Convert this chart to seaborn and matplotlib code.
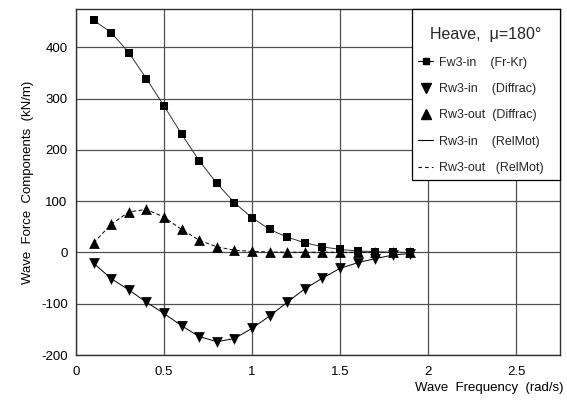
import matplotlib
matplotlib.use("Agg")
import matplotlib.pyplot as plt
import seaborn as sns
import pandas as pd
from matplotlib.lines import Line2D

# ---- data ----
freq = [0.1, 0.2, 0.3, 0.4, 0.5, 0.6, 0.7, 0.8, 0.9, 1.0,
        1.1, 1.2, 1.3, 1.4, 1.5, 1.6, 1.7, 1.8, 1.9]
fw3_in_frkr = [453, 429, 390, 339, 286, 231, 179, 135, 97, 68,
               45, 30, 19, 11, 6, 3, 1.5, 0.5, 0]
rw3_in_diffrac = [-21, -51, -73, -97, -119, -143, -164, -174, -168, -148,
                  -124, -97, -71, -50, -31, -20, -12, -5, -2]
rw3_out_diffrac = [19, 55, 79, 84, 69, 45, 24, 11, 4.5, 2,
                   1, 0.5, 0.5, 0.5, 0.5, 0.3, 0.2, 0.1, 0]
rw3_in_relmot = [-21, -51, -73, -97, -119, -143, -164, -174, -168, -148,
                 -124, -97, -71, -50, -31, -20, -12, -5, -2]
rw3_out_relmot = [19, 55, 79, 84, 69, 45, 24, 11, 4.5, 2,
                  1, 0.5, 0.5, 0.5, 0.5, 0.3, 0.2, 0.1, 0]

xticks = [0, 0.5, 1, 1.5, 2, 2.5]
xticklabels = ["0", "0.5", "1", "1.5", "2", "2.5"]
yticks = [-200, -100, 0, 100, 200, 300, 400]

legend_title = "Heave,  \u03bc=180\u00b0"
labels = ["Fw3-in    (Fr-Kr)",
          "Rw3-in    (Diffrac)",
          "Rw3-out  (Diffrac)",
          "Rw3-in    (RelMot)",
          "Rw3-out   (RelMot)"]

df = pd.DataFrame({"freq": freq, "fw3": fw3_in_frkr, "rin": rw3_in_diffrac,
                   "rout": rw3_out_diffrac, "rin_rm": rw3_in_relmot,
                   "rout_rm": rw3_out_relmot})

sns.set_theme(style="white")
plt.rcParams["font.family"] = ["Liberation Sans", "DejaVu Sans"]
plt.rcParams["axes.unicode_minus"] = False

fig = plt.figure(figsize=(5.67, 4.15), dpi=100)
ax = fig.add_axes([76 / 567, 1 - 355 / 415, (560 - 76) / 567, (355 - 9) / 415])

# lines (RelMot)
sns.lineplot(data=df, x="freq", y="rin_rm", ax=ax, color="black", lw=0.7)
sns.lineplot(data=df, x="freq", y="rout_rm", ax=ax, color="black", lw=0.7,
             dashes=False, linestyle=(0, (4, 2.5)))
# Fw3 line + square markers
sns.lineplot(data=df, x="freq", y="fw3", ax=ax, color="#333333", lw=0.7)
sns.scatterplot(data=df, x="freq", y="fw3", ax=ax, marker="s", color="black",
                s=26, edgecolor="black", linewidth=0, zorder=5)
sns.scatterplot(data=df, x="freq", y="rin", ax=ax, marker="v", color="black",
                s=60, edgecolor="black", linewidth=0, zorder=5)
sns.scatterplot(data=df, x="freq", y="rout", ax=ax, marker="^", color="black",
                s=60, edgecolor="black", linewidth=0, zorder=5)

ax.set_xlim(0, 2.75)
ax.set_ylim(-200, 475)
ax.set_xticks(xticks)
ax.set_xticklabels(xticklabels)
ax.set_yticks(yticks)
ax.tick_params(axis="both", length=0, labelsize=9.5, colors="black")
ax.tick_params(axis="x", pad=8)
ax.tick_params(axis="y", pad=6)
ax.grid(True, color="#505050", lw=0.9)
for s in ax.spines.values():
    s.set_color("#303030")
    s.set_linewidth(1.0)

ax.set_ylabel("Wave  Force  Components  (kN/m)", fontsize=9.5, color="black",
              labelpad=5)
ax.set_xlabel("Wave  Frequency  (rad/s)", fontsize=9.5, color="black", ha="right")
ax.xaxis.set_label_coords(1.008, -0.095)
ax.xaxis.label.set_va("center")

handles = [
    Line2D([], [], color="black", lw=0.8, marker="s", markersize=4.5),
    Line2D([], [], color="black", lw=0, marker="v", markersize=6.5),
    Line2D([], [], color="black", lw=0, marker="^", markersize=6.5),
    Line2D([], [], color="black", lw=0.8),
    Line2D([], [], color="black", lw=0.8, linestyle=(0, (3, 3))),
]
leg = ax.legend(handles, [l + "   " for l in labels], title="\n" + legend_title,
                loc="upper right", bbox_to_anchor=(1, 1), borderaxespad=0,
                fontsize=9, title_fontsize=11.5, frameon=True, fancybox=False,
                edgecolor="black", framealpha=1, handlelength=1.2,
                handletextpad=0.5, labelspacing=1.15, borderpad=0.45)
leg.get_title().set_linespacing(0.8)
leg.get_frame().set_linewidth(0.9)

fig.savefig("out.png", dpi=100)
